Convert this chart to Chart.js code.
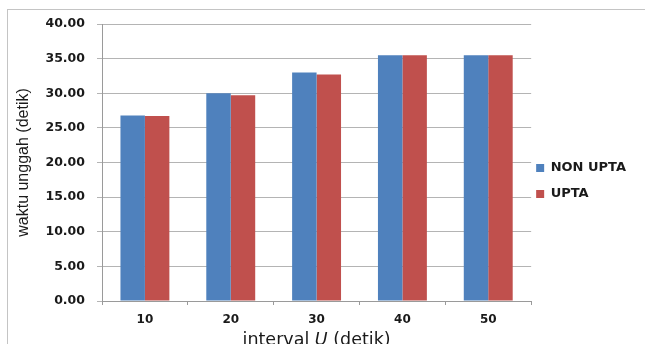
<!DOCTYPE html>
<html>
<head>
<meta charset="utf-8">
<script src="https://cdn.jsdelivr.net/npm/chart.js@4.4.1/dist/chart.umd.min.js"></script>
<style>
html,body{margin:0;padding:0;background:#fff;overflow:hidden;}
#wrap{position:relative;width:645px;height:344px;}
#frame{position:absolute;left:7px;top:9px;width:700px;height:400px;border:1px solid #c4c4c4;box-sizing:border-box;pointer-events:none;}
canvas{position:absolute;left:0;top:0;}
</style>
</head>
<body>
<div id="wrap">
<div id="frame"></div>
<canvas id="c" width="645" height="344"></canvas>
</div>
<script>
const categories = ["10", "20", "30", "40", "50"];
const nonUpta = [26.8, 30.0, 33.0, 35.5, 35.5];
const upta = [26.7, 29.7, 32.7, 35.5, 35.5];
const yTicks = [0, 5, 10, 15, 20, 25, 30, 35, 40];
const seriesNames = ["NON UPTA", "UPTA"];
const yTitle = "waktu unggah (detik)";
const xTitleParts = [["interval ", false], ["U", true], [" (detik)", false]];

const xTitlePlugin = {
  id: 'xTitle',
  afterLayout(chart) {
    const lg = chart.legend;
    if (lg) {
      const target = chart.chartArea.right + 5 - lg.options.labels.padding;
      const d = lg.left - target;
      lg.left -= d; lg.right -= d;
    }
  },
  afterDraw(chart) {
    const ctx = chart.ctx;
    const area = chart.chartArea;
    ctx.save();
    ctx.fillStyle = '#1a1a1a';
    ctx.textBaseline = 'alphabetic';
    const fonts = xTitleParts.map(p => (p[1] ? 'oblique ' : '') + '17.5px "DejaVu Sans", Verdana, sans-serif');
    let total = 0;
    const widths = xTitleParts.map((p, i) => { ctx.font = fonts[i]; const w = ctx.measureText(p[0]).width; total += w; return w; });
    let x = (area.left + area.right) / 2 - total / 2;
    xTitleParts.forEach((p, i) => { ctx.font = fonts[i]; ctx.fillText(p[0], x, 345); x += widths[i]; });
    ctx.restore();
  }
};

new Chart(document.getElementById('c'), {
  type: 'bar',
  data: {
    labels: categories,
    datasets: [
      { label: seriesNames[0], data: nonUpta, backgroundColor: '#4F81BD', borderWidth: 0 },
      { label: seriesNames[1], data: upta, backgroundColor: '#C0504D', borderWidth: 0 }
    ]
  },
  options: {
    responsive: false,
    animation: false,
    events: [],
    layout: { padding: { top: 24, left: 0, right: 1, bottom: 6 } },
    datasets: { bar: { categoryPercentage: 0.57, barPercentage: 1.0 } },
    plugins: {
      tooltip: { enabled: false },
      legend: {
        position: 'right',
        labels: {
          boxWidth: 8, boxHeight: 8, padding: 13,
          color: '#1a1a1a',
          font: { family: '"DejaVu Sans", Verdana, sans-serif', size: 13, weight: 'bold' }
        }
      }
    },
    scales: {
      x: {
        afterFit(scale) { scale.height = 37; },
        grid: { offset: true, drawOnChartArea: false, drawTicks: true, tickLength: 4, color: '#9a9a9a' },
        border: { color: '#9a9a9a' },
        ticks: { color: '#1a1a1a', padding: 8, font: { family: '"DejaVu Sans", Verdana, sans-serif', size: 12, weight: 'bold' } }
      },
      y: {
        min: 0, max: 40,
        afterFit(scale) { scale.width = 102; },
        afterBuildTicks(scale) { scale.ticks = yTicks.map(v => ({ value: v })); },
        grid: { color: '#b4b4b4', tickLength: 5, drawTicks: true },
        border: { color: '#9a9a9a' },
        ticks: {
          color: '#1a1a1a', padding: 12,
          font: { family: '"DejaVu Sans", Verdana, sans-serif', size: 12.5, weight: 'bold' },
          callback: v => Number(v).toFixed(2)
        },
        title: {
          display: true, text: yTitle, color: '#1a1a1a',
          font: { family: '"Liberation Sans", Arial, sans-serif', size: 16 },
          padding: { top: 14, bottom: 0 }
        }
      }
    }
  },
  plugins: [xTitlePlugin]
});
</script>
</body>
</html>
